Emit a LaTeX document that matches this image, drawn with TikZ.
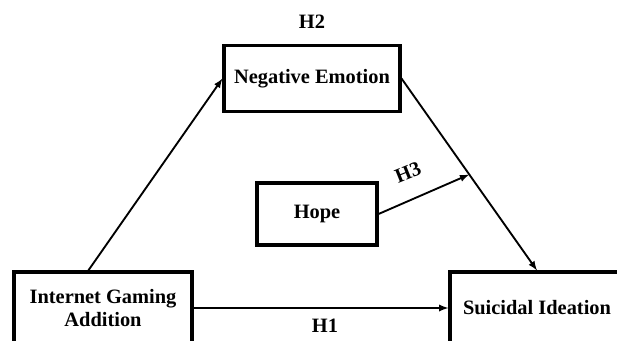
\documentclass[tikz,border=0pt]{standalone}
\usepackage{fontspec}
\setmainfont{Liberation Serif}
\usepackage{tikz}
\usetikzlibrary{arrows}

\begin{document}
\begin{tikzpicture}[x=0.75pt,y=0.75pt,
    box/.style={draw,line width=2.3pt,align=center,font=\fontsize{15.3}{17.5}\selectfont\bfseries},
    hlabel/.style={font=\fontsize{15.3}{17}\selectfont\bfseries},
    link/.style={-latex,line width=1.4pt}]
		\useasboundingbox (0,0) rectangle (617,340);
		\clip (0,0) rectangle (617,340);

		% boxes
		\node[box,minimum width=132pt,minimum height=50pt] (NE) at (312,261.5) {Negative Emotion};
		\node[box,minimum width=90pt,minimum height=46.5pt] (Hope) at (317,126) {Hope};
		\node[box,minimum width=133.5pt,minimum height=54pt] (IGA) at (103,32) {Internet Gaming\\Addition};
		\node[box,minimum width=130.5pt,minimum height=54pt] (SI) at (537,32) {Suicidal Ideation};

		% paths
		\draw[link] ([xshift=-11pt]IGA.north) -- (NE.west);
		\draw[link] (NE.east) -- coordinate[pos=.5] (mid) (SI.north);
		\draw[link] (Hope.east) -- (mid);
		\draw[link] (IGA.east) -- (SI.west);

		% hypotheses
		\node[hlabel] (H2) at (312,318) {H2};
		\node[hlabel] (H1) at (325,14) {H1};
		\node[hlabel,rotate=22] (H3) at (408,168) {H3};
    \end{tikzpicture}
\end{document}
